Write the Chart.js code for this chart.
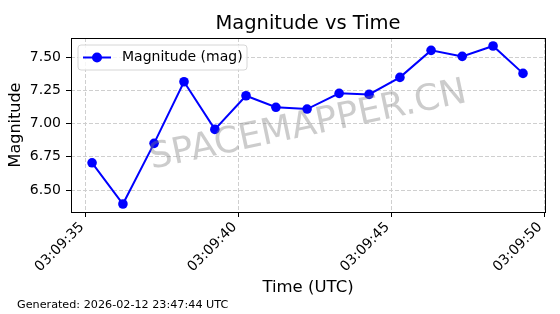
<!DOCTYPE html>
<html><head><meta charset="utf-8">
<script src="https://cdn.jsdelivr.net/npm/chart.js@4.4.0/dist/chart.umd.min.js"></script>
<style>html,body{margin:0;padding:0;background:#fff;} canvas{display:block;}</style>
</head><body>
<canvas id="c" width="560" height="314"></canvas>
<script>
// ---- data ----
const timePrefix = '03:09:';
const timeSeconds = [35.20, 36.21, 37.23, 38.21, 39.22, 40.24, 41.22, 42.24, 43.29, 44.27, 45.28, 46.30, 47.32, 48.33, 49.31];
const magnitudes  = [6.705, 6.395, 6.851, 7.314, 6.956, 7.209, 7.122, 7.109, 7.227, 7.219, 7.347, 7.550, 7.505, 7.583, 7.377];
const xTickValues = [35, 40, 45, 50];
const yTickValues = [6.50, 6.75, 7.00, 7.25, 7.50];
const seriesLabel = 'Magnitude (mag)';
const titleText = 'Magnitude vs Time';
const xTitle = 'Time (UTC)';
const yTitle = 'Magnitude';
const footerText = 'Generated: 2026-02-12 23:47:44 UTC';
const watermarkText = 'SPACEMAPPER.CN';

const FONT = "'DejaVu Sans', sans-serif";
const BLUE = '#0000ff';

const decor = {
  id: 'decor',
  afterDraw(chart) {
    const ctx = chart.ctx;
    const a = chart.chartArea;
    ctx.save();
    // watermark
    ctx.save();
    ctx.translate((a.left + a.right) / 2, 126);
    ctx.rotate(-12 * Math.PI / 180);
    ctx.font = '36px ' + FONT;
    ctx.fillStyle = 'rgba(128,128,128,0.4)';
    ctx.textAlign = 'center';
    ctx.textBaseline = 'middle';
    ctx.fillText(watermarkText, 0, 0);
    ctx.restore();
    // frame
    ctx.strokeStyle = '#000';
    ctx.lineWidth = 1;
    ctx.strokeRect(Math.round(a.left) + 0.5, Math.round(a.top) + 0.5, Math.round(a.right - a.left), Math.round(a.bottom - a.top));
    // legend
    const lx = 78, ly = 45, lw = 169, lh = 25, r = 3;
    ctx.beginPath();
    ctx.moveTo(lx + r, ly); ctx.lineTo(lx + lw - r, ly); ctx.arcTo(lx + lw, ly, lx + lw, ly + r, r);
    ctx.lineTo(lx + lw, ly + lh - r); ctx.arcTo(lx + lw, ly + lh, lx + lw - r, ly + lh, r);
    ctx.lineTo(lx + r, ly + lh); ctx.arcTo(lx, ly + lh, lx, ly + lh - r, r);
    ctx.lineTo(lx, ly + r); ctx.arcTo(lx, ly, lx + r, ly, r);
    ctx.closePath();
    ctx.fillStyle = 'rgba(255,255,255,0.8)';
    ctx.fill();
    ctx.strokeStyle = '#d6d6d6';
    ctx.stroke();
    const cy = ly + lh / 2;
    ctx.strokeStyle = BLUE; ctx.lineWidth = 2;
    ctx.beginPath(); ctx.moveTo(83, cy); ctx.lineTo(111, cy); ctx.stroke();
    ctx.fillStyle = BLUE;
    ctx.beginPath(); ctx.arc(97, cy, 5, 0, Math.PI * 2); ctx.fill();
    ctx.fillStyle = '#000';
    ctx.font = '14px ' + FONT;
    ctx.textAlign = 'left'; ctx.textBaseline = 'middle';
    ctx.fillText(chart.data.datasets[0].label, 122, cy);
    // title
    ctx.font = '19.5px ' + FONT;
    ctx.textAlign = 'center'; ctx.textBaseline = 'middle';
    ctx.fillText(titleText, (a.left + a.right) / 2, 24);
    // footer
    ctx.font = '11.2px ' + FONT;
    ctx.textAlign = 'left';
    ctx.fillText(footerText, 17, 305);
    ctx.restore();
  }
};

new Chart(document.getElementById('c').getContext('2d'), {
  type: 'line',
  data: {
    datasets: [{
      label: seriesLabel,
      data: timeSeconds.map((t, i) => ({ x: t, y: magnitudes[i] })),
      borderColor: BLUE, backgroundColor: BLUE, borderWidth: 2,
      pointRadius: 4.8, pointHoverRadius: 4.8, pointBorderWidth: 0,
      tension: 0, fill: false
    }]
  },
  options: {
    responsive: false, animation: false, devicePixelRatio: 1,
    layout: { padding: { left: 0, top: 38, right: 15, bottom: 0 } },
    plugins: { legend: { display: false }, title: { display: false }, tooltip: { enabled: false } },
    scales: {
      x: {
        type: 'linear', min: 34.51, max: 50.03,
        afterFit(s) { s.height = 102; },
        afterBuildTicks(s) { s.ticks = xTickValues.map(v => ({ value: v })); },
        ticks: {
          callback: v => timePrefix + String(v).padStart(2, '0'),
          maxRotation: 45, minRotation: 45, autoSkip: false, labelOffset: -4,
          color: '#000', font: { family: FONT, size: 14 }, padding: 2
        },
        grid: { color: '#cfcfcf', lineWidth: 1, drawTicks: true, tickLength: 5, tickColor: '#000', tickWidth: 1, tickBorderDash: [] },
        border: { display: false, dash: [4, 2] },
        title: { display: true, text: xTitle, color: '#000', font: { family: FONT, size: 16.5 }, padding: { top: 0, bottom: 16 } }
      },
      y: {
        min: 6.335, max: 7.643,
        afterFit(s) { s.width = 71; },
        afterBuildTicks(s) { s.ticks = yTickValues.map(v => ({ value: v })); },
        ticks: {
          callback: v => Number(v).toFixed(2),
          color: '#000', font: { family: FONT, size: 14 }, padding: 5
        },
        grid: { color: '#cfcfcf', lineWidth: 1, drawTicks: true, tickLength: 5, tickColor: '#000', tickWidth: 1, tickBorderDash: [] },
        border: { display: false, dash: [4, 2] },
        title: { display: true, text: yTitle, color: '#000', font: { family: FONT, size: 16 }, padding: { top: 6, bottom: 0 } }
      }
    }
  },
  plugins: [decor]
});
</script>
</body></html>
